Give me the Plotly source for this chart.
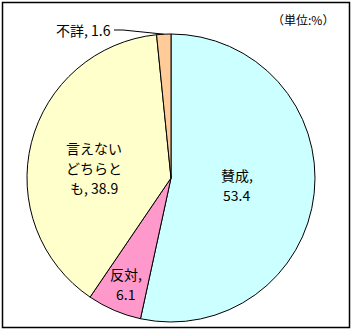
import math
import plotly.graph_objects as go

labels = ["賛成", "反対", "言えないどちらとも", "不詳"]
values = [53.4, 6.1, 38.9, 1.6]
label_lines = [["賛成,", "53.4"], ["反対,", "6.1"], ["言えない", "どちらと", "も, 38.9"], ["不詳, 1.6"]]
colors = ["#CCFFFF", "#FF99CC", "#FFFFCC", "#FFCC99"]

W, H = 352, 330
FONT = "Noto Sans CJK JP"

# pie placement (pixels)
cx, cy, R = 171, 178, 144
dom_x = [(cx - R) / W, (cx + R) / W]
dom_y = [1 - (cy + R) / H, 1 - (cy - R) / H]

fig = go.Figure(go.Pie(
    labels=labels, values=values, sort=False, direction="clockwise", rotation=0,
    marker=dict(colors=colors, line=dict(color="black", width=1)),
    textinfo="none", hoverinfo="label+value", showlegend=False,
    domain=dict(x=dom_x, y=dom_y),
))

def px2paper(x, y):
    return x / W, 1 - y / H

total = sum(values)
radius_frac = [0.46, 0.80, 0.54, None]
angle_off = [0, 0, -7, 0]
line_gap = 20
annotations = []
shapes = []
cum = 0
for i, v in enumerate(values):
    mid = (cum + v / 2) / total * 360
    cum += v
    if radius_frac[i] is not None:
        a = math.radians(mid + angle_off[i])
        r = R * radius_frac[i]
        x = cx + r * math.sin(a)
        y = cy - r * math.cos(a)
        n = len(label_lines[i])
        for k, t in enumerate(label_lines[i]):
            yy = y + (k - (n - 1) / 2) * line_gap
            px_, py_ = px2paper(x, yy)
            annotations.append(dict(x=px_, y=py_, xref="paper", yref="paper", text=t,
                                    showarrow=False, font=dict(family=FONT, size=14, color="black"),
                                    xanchor="center", yanchor="middle"))
    else:
        a = math.radians(mid)
        ex = cx + R * math.sin(a)
        ey = cy - R * math.cos(a)
        lx, ly = 113, 30
        p0 = px2paper(lx + 1, ly)
        p1 = px2paper(lx + 10, ly)
        p2 = px2paper(ex, ey)
        shapes.append(dict(type="line", xref="paper", yref="paper", x0=p0[0], y0=p0[1], x1=p1[0], y1=p1[1],
                           line=dict(color="black", width=1)))
        shapes.append(dict(type="line", xref="paper", yref="paper", x0=p1[0], y0=p1[1], x1=p2[0], y1=p2[1],
                           line=dict(color="black", width=1)))
        tx, ty = px2paper(lx, ly)
        annotations.append(dict(x=tx, y=ty, xref="paper", yref="paper", text=label_lines[i][0],
                                showarrow=False, font=dict(family=FONT, size=14, color="black"),
                                xanchor="right", yanchor="middle"))

ux, uy = px2paper(303, 20)
annotations.append(dict(x=ux, y=uy, xref="paper", yref="paper", text="（単位:%）",
                        showarrow=False, font=dict(family=FONT, size=12, color="black"),
                        xanchor="center", yanchor="middle"))

b0 = px2paper(2.5, 2.5)
b1 = px2paper(349.5, 327.5)
shapes.append(dict(type="rect", xref="paper", yref="paper", x0=b0[0], y0=b1[1], x1=b1[0], y1=b0[1],
                   line=dict(color="black", width=1.5)))

fig.update_layout(width=W, height=H, margin=dict(l=0, r=0, t=0, b=0),
                  paper_bgcolor="white", plot_bgcolor="white",
                  annotations=annotations, shapes=shapes)
fig.write_html("out.html")
